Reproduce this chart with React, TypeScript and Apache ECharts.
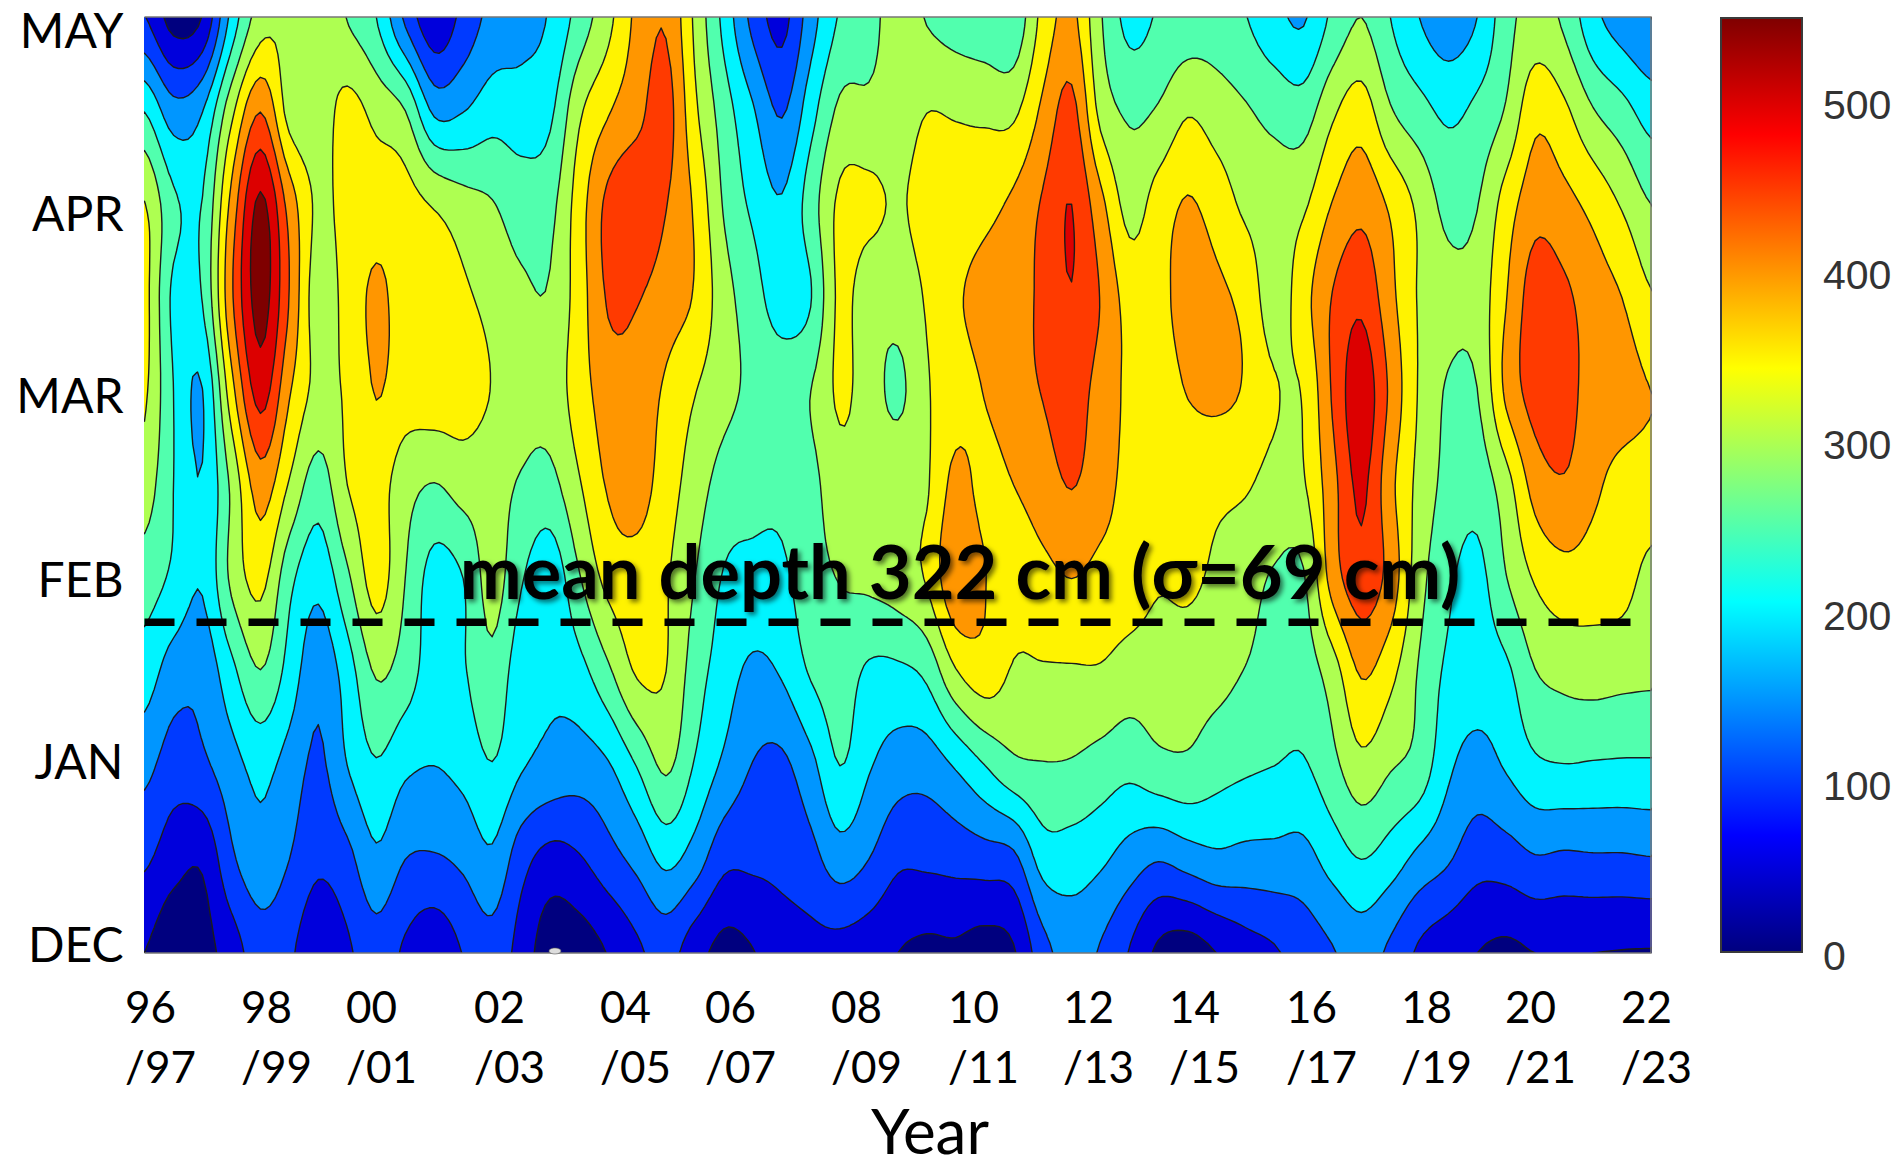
import React, { useEffect, useRef } from "react";
import * as echarts from "echarts";

// Snow depth (cm): one array per half-month row (Dec -> May), one value per half-winter column (96/97 -> 22/23)
const rowDec = [50,12,30,75,125,108,62,92,128,92,65,102,130,80,20,25,52,90,118,70,35,48,75,85,82,70,50,40,42,30,45,130,170,145,97,40,25,50,78,95,120,146,172,140,92,68,50,40,50,52,50,48,47];
const rowDecMid = [108,70,58,140,183,150,110,135,190,150,145,160,190,120,82,95,130,165,212,175,114,110,115,133,175,150,110,110,117,125,137,220,225,209,177,153,172,188,183,183,183,220,250,225,185,155,120,125,145,140,143,143,147];
const rowJan = [165,125,140,180,215,180,140,200,245,210,200,215,248,205,185,175,195,252,308,245,190,148,140,185,250,205,175,172,205,249,288,297,295,280,265,285,290,270,258,250,245,285,335,305,280,210,180,205,240,248,245,243,243];
const rowJanMid = [225,175,165,235,298,230,165,225,305,275,225,245,285,220,205,232,290,355,350,275,225,190,205,255,275,242,240,262,345,378,345,345,345,345,328,325,320,315,298,280,275,325,405,365,295,240,225,240,298,315,320,315,310];
const rowFeb = [275,240,205,310,365,265,215,290,370,300,230,250,320,255,215,295,365,380,355,300,246,236,240,280,302,310,325,355,440,402,370,385,400,385,375,355,360,340,320,295,295,420,480,430,320,260,235,298,355,380,375,368,335];
const rowFebMid = [325,250,202,310,425,345,275,350,372,320,298,320,320,295,285,345,405,420,375,325,280,265,262,285,330,328,335,345,415,385,400,425,452,420,385,372,370,362,355,335,345,432,510,415,335,285,270,330,420,445,410,385,380];
const rowMar = [358,250,199,380,520,405,335,358,402,375,378,372,348,318,320,375,425,430,392,352,315,290,280,300,358,325,290,345,378,402,430,452,475,430,390,375,402,410,395,354,354,455,530,440,345,295,299,410,470,468,430,420,400];
const rowMarMid = [365,240,252,440,570,448,322,370,408,380,375,358,335,310,305,375,455,453,425,395,320,272,225,248,360,320,320,355,392,418,430,460,498,448,380,385,420,410,385,325,380,452,488,415,345,315,320,398,475,460,425,400,355];
const rowApr = [352,260,252,415,560,430,340,370,378,370,345,320,303,275,285,375,462,485,452,392,295,240,205,275,360,362,345,368,372,385,410,455,500,415,332,372,404,378,340,325,342,402,435,392,338,285,298,372,430,415,385,345,300];
const rowAprMid = [248,170,198,335,448,332,325,365,335,300,190,198,228,225,240,340,395,435,470,360,275,205,145,230,310,312,325,349,345,340,340,410,465,335,292,305,345,325,305,285,275,340,375,305,268,240,262,305,385,360,303,268,228];
const rowMay = [102,30,52,215,325,340,335,298,250,140,62,115,165,180,205,270,335,412,445,340,235,135,85,178,255,280,325,297,278,268,262,365,412,305,235,255,270,275,252,215,195,260,300,250,200,170,200,280,320,290,215,175,150];
const depthRows = [rowDec, rowDecMid, rowJan, rowJanMid, rowFeb, rowFebMid, rowMar, rowMarMid, rowApr, rowAprMid, rowMay];

const contourLevels = [0, 50, 100, 150, 200, 250, 300, 350, 400, 450, 500, 550];
const bandColors = ["#00007f","#0000dc","#003aff","#0096ff","#00f4ff","#51ffae","#aeff51","#fff300","#ff9600","#ff3a00","#dc0000","#7f0000"];
const colorbarTicks = [0, 100, 200, 300, 400, 500];

const monthLabels = ["DEC", "JAN", "FEB", "MAR", "APR", "MAY"];
const monthLabelAt = [0.053, 1.026, 2.003, 2.986, 3.958, 4.931];
const yearLabels = ["96\n/97","98\n/99","00\n/01","02\n/03","04\n/05","06\n/07","08\n/09","10\n/11","12\n/13","14\n/15","16\n/17","18\n/19","20\n/21","22\n/23"];
const yearLabelLeft = [125,241,346,474,600,705,831,948,1063,1169,1286,1401,1505,1621];
const meanDepthMonth = [1.767, 1.767];
const meanDepthYears = [0, 26];

const SUBX = 6, SUBY = 10;

function cr(p0: number, p1: number, p2: number, p3: number, t: number) {
  return 0.5 * (2 * p1 + (p2 - p0) * t + (2 * p0 - 5 * p1 + 4 * p2 - p3) * t * t + (3 * p1 - p0 - 3 * p2 + p3) * t * t * t);
}
function buildField() {
  const nr = depthRows.length, nc = depthRows[0].length;
  const fw = (nc - 1) * SUBX + 1, fh = (nr - 1) * SUBY + 1;
  const cl = (a: number, n: number) => Math.max(0, Math.min(n - 1, a));
  const byRow: Float64Array[] = [];
  for (const row of depthRows) {
    const out = new Float64Array(fw);
    for (let i = 0; i < fw; i++) {
      const c = Math.min(Math.floor(i / SUBX), nc - 2), t = i / SUBX - c;
      out[i] = cr(row[cl(c - 1, nc)], row[c], row[c + 1], row[cl(c + 2, nc)], t);
    }
    byRow.push(out);
  }
  const f: Float64Array[] = [];
  for (let j = 0; j < fh; j++) {
    const r = Math.min(Math.floor(j / SUBY), nr - 2), t = j / SUBY - r;
    const out = new Float64Array(fw);
    for (let i = 0; i < fw; i++) {
      out[i] = cr(byRow[cl(r - 1, nr)][i], byRow[r][i], byRow[r + 1][i], byRow[cl(r + 2, nr)][i], t);
    }
    f.push(out);
  }
  return { f, fw, fh };
}
const field = buildField();

function contourPath(L: number, toPx: (x: number, y: number) => number[]) {
  const { f, fw, fh } = field;
  const W = fw + 2, H = fh + 2;
  const pad = L - 1e-6;
  const val = (i: number, j: number) => (i === 0 || j === 0 || i === W - 1 || j === H - 1 ? pad : f[j - 1][i - 1]);
  const hId = (i: number, j: number) => 2 * (j * W + i);
  const vId = (i: number, j: number) => 2 * (j * W + i) + 1;
  const next = new Map<number, number>();
  const pts = new Map<number, number[]>();
  const cross = (id: number) => {
    const p = pts.get(id);
    if (p) return p;
    const k = id >> 1, j = Math.floor(k / W), i = k - j * W;
    const horiz = (id & 1) === 0;
    const i2 = horiz ? i + 1 : i, j2 = horiz ? j : j + 1;
    const a = val(i, j), b = val(i2, j2);
    const t = (L - a) / (b - a);
    const gx = i + (i2 - i) * t - 1, gy = j + (j2 - j) * t - 1;
    const q = toPx((gx / SUBX) / 2, (gy / SUBY) / 2);
    pts.set(id, q);
    return q;
  };
  for (let j = 0; j < H - 1; j++) {
    for (let i = 0; i < W - 1; i++) {
      const a = [val(i, j) >= L, val(i + 1, j) >= L, val(i + 1, j + 1) >= L, val(i, j + 1) >= L];
      if (a[0] === a[1] && a[1] === a[2] && a[2] === a[3]) continue;
      const e = [hId(i, j), vId(i + 1, j), hId(i, j + 1), vId(i, j)];
      for (let k = 0; k < 4; k++) {
        if (!a[k] && a[(k + 1) % 4]) {
          let m = (k + 1) % 4;
          while (a[(m + 1) % 4]) m = (m + 1) % 4;
          next.set(e[m], e[k]);
        }
      }
    }
  }
  let d = "";
  for (const start of Array.from(next.keys())) {
    if (!next.has(start)) continue;
    let cur: number | undefined = start;
    let first = true;
    let lx = 0, ly = 0;
    while (cur !== undefined && next.has(cur)) {
      const nx: number = next.get(cur) as number;
      next.delete(cur);
      const p = cross(cur);
      if (first || Math.abs(p[0] - lx) + Math.abs(p[1] - ly) > 0.7) {
        d += (first ? "M" : "L") + p[0].toFixed(1) + " " + p[1].toFixed(1);
        lx = p[0]; ly = p[1]; first = false;
      }
      cur = nx;
    }
    d += "Z";
  }
  return d;
}

export default function App() {
  const ref = useRef<HTMLDivElement>(null);
  useEffect(() => {
    document.body.style.margin = "0";
    const chart = echarts.init(ref.current as HTMLDivElement, null, { renderer: "svg" });
    const font = "Lato";
    const option: any = {
      animation: false,
      backgroundColor: "#ffffff",
      grid: [
        { left: 144.5, top: 17, width: 1506.5, height: 936 },
        { left: 1720, top: 17, width: 83, height: 936 },
      ],
      xAxis: [
        { type: "value", gridIndex: 0, min: 0, max: 26, axisLabel: { show: false }, axisTick: { show: false }, axisLine: { show: false }, splitLine: { show: false } },
        { type: "category", gridIndex: 1, data: [""], axisLabel: { show: false }, axisTick: { show: false }, axisLine: { show: false } },
      ],
      yAxis: [
        {
          type: "value", gridIndex: 0, min: 0, max: 5,
          axisLine: { show: false }, axisTick: { show: false }, splitLine: { show: false },
          axisLabel: {
            customValues: monthLabelAt, margin: 21, fontFamily: font, fontSize: 48, color: "#000",
            formatter: (v: number) => monthLabels[monthLabelAt.indexOf(v)] ?? "",
          },
        },
        {
          type: "value", gridIndex: 1, min: 0, max: 550, position: "right", z: 5,
          axisLine: { show: false }, splitLine: { show: false },
          axisTick: { inside: true, length: 8, customValues: colorbarTicks, lineStyle: { color: "#222", width: 2 } },
          axisLabel: {
            customValues: colorbarTicks, margin: 20,
            formatter: "{a|{value}}",
            rich: { a: { fontFamily: "Liberation Sans", fontSize: 41, color: "#333", padding: [6, 0, 0, 0] } },
          },
        },
      ],
      series: [
        {
          type: "custom", xAxisIndex: 0, yAxisIndex: 0, coordinateSystem: "cartesian2d", clip: true, silent: true, z: 1,
          data: contourLevels.map((l) => [0, 0, l]),
          encode: { x: 0, y: 1 },
          renderItem: (params: any, api: any) => {
            const i = params.dataIndex;
            const o = api.coord([0, 0]), e = api.coord([26, 5]);
            const toPx = (x: number, y: number) => [o[0] + (x / 26) * (e[0] - o[0]), o[1] + (y / 5) * (e[1] - o[1])];
            return {
              type: "path",
              shape: { pathData: contourPath(contourLevels[i], toPx) },
              style: { fill: bandColors[i], stroke: "#1c1c1c", lineWidth: 1.4, lineJoin: "round" },
            };
          },
        },
        {
          type: "line", xAxisIndex: 0, yAxisIndex: 0, z: 3, symbol: "none", silent: true,
          data: meanDepthYears.map((x, i) => [x, meanDepthMonth[i]]),
          lineStyle: { color: "#000", width: 7.5, type: [30, 22] },
        },
        {
          type: "bar", xAxisIndex: 1, yAxisIndex: 1, barWidth: "100%", silent: true, z: 2,
          data: [550],
          itemStyle: {
            borderColor: "#3a3a3a", borderWidth: 2,
            color: new echarts.graphic.LinearGradient(0, 1, 0, 0, [
              { offset: 0, color: "#00007f" }, { offset: 0.125, color: "#0000ff" }, { offset: 0.375, color: "#00ffff" },
              { offset: 0.625, color: "#ffff00" }, { offset: 0.875, color: "#ff0000" }, { offset: 1, color: "#7f0000" },
            ]),
          },
        },
      ],
      graphic: [
        { type: "polyline", z: 6, silent: true, shape: { points: [[144.5, 17], [1651, 17], [1651, 953], [144.5, 953]] }, style: { fill: "none", stroke: "#777", lineWidth: 1.5 } },
        { type: "ellipse", z: 6, silent: true, shape: { cx: 555, cy: 951, rx: 6, ry: 3 }, style: { fill: "#ddd", stroke: "#555", lineWidth: 0.6 } },
        ...yearLabels.map((t, i) => ({
          type: "text", z: 6, silent: true, x: yearLabelLeft[i], y: 976,
          style: { text: t, fontFamily: font, fontSize: 44, lineHeight: 60, fill: "#000", align: "left", verticalAlign: "top" },
        })),
        {
          type: "text", z: 7, silent: true, x: 960, y: 570,
          style: {
            text: "mean depth 322 cm (σ=69 cm)", fontFamily: font, fontWeight: "bold", fontSize: 74, fill: "#000",
            align: "center", verticalAlign: "middle",
            textShadowColor: "rgba(0,0,0,0.55)", textShadowBlur: 5, textShadowOffsetX: 3, textShadowOffsetY: 3,
          },
        },
        {
          type: "text", z: 6, silent: true, x: 930, y: 1130,
          style: { text: "Year", fontFamily: font, fontSize: 62, fill: "#000", align: "center", verticalAlign: "middle" },
        },
      ],
    };
    chart.setOption(option);
    return () => chart.dispose();
  }, []);
  return <div ref={ref} style={{ width: 1903, height: 1168, background: "#fff" }} />;
}
